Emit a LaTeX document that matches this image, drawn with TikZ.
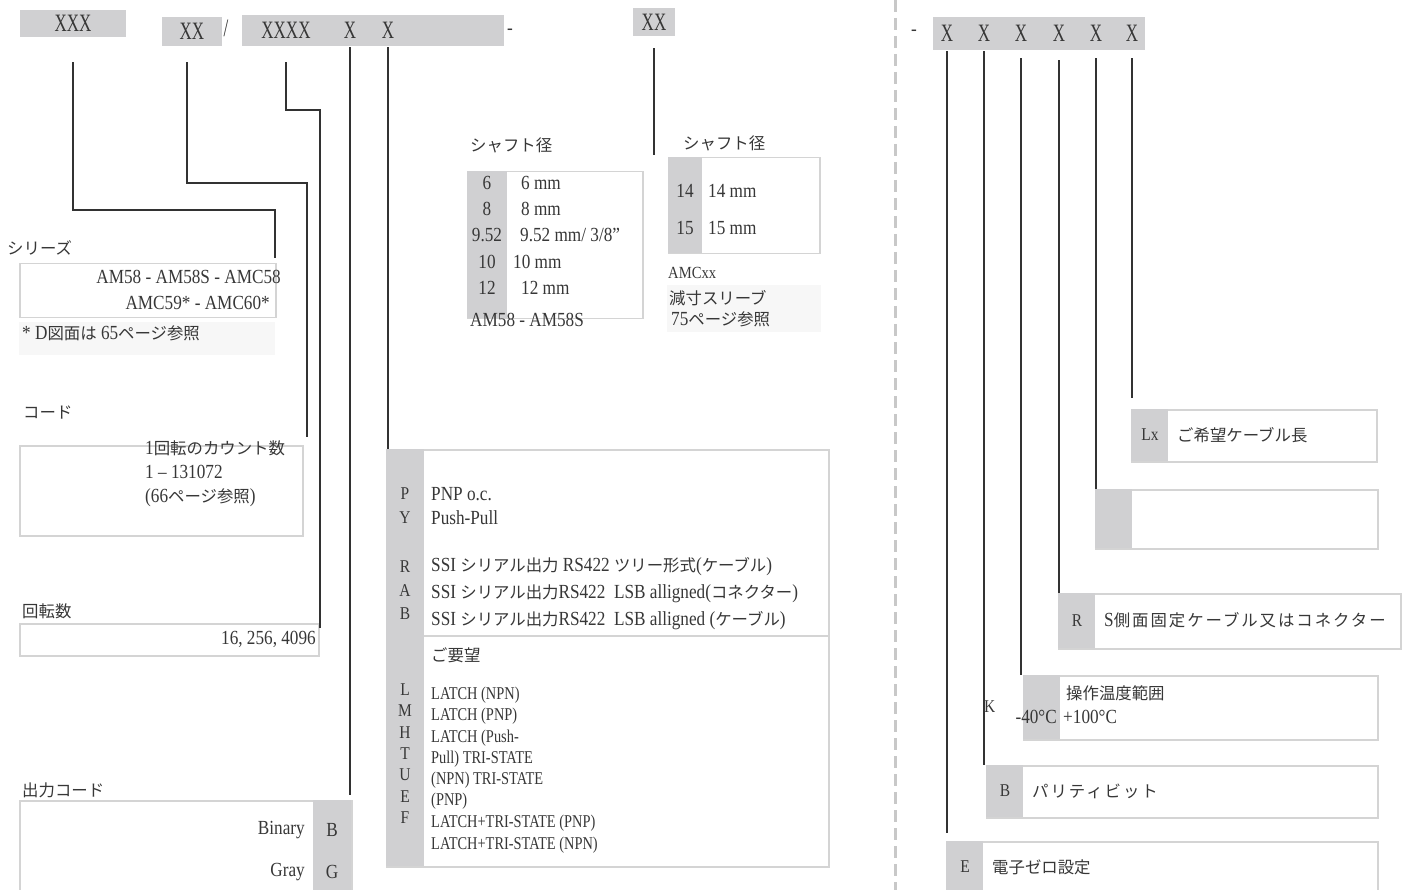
\documentclass[tikz,border=0pt]{standalone}
\usepackage{fontspec}
\setmainfont[FakeStretch=0.86]{Liberation Serif}
\newfontfamily\condfont[FakeStretch=0.8]{Liberation Serif}
\newfontfamily\codefont[FakeStretch=0.68]{Liberation Serif}
\newfontfamily\jpfont[Scale=0.82]{Noto Sans CJK JP}
\newcommand{\jtxt}[1]{{\jpfont #1}}
\newcommand{\jwide}[1]{{\jpfont\addfontfeature{LetterSpace=12}#1}}
\usepackage{tikz}
\usetikzlibrary{positioning}
\definecolor{keygray}{RGB}{208,208,210}
\definecolor{framegray}{RGB}{212,212,212}
\definecolor{notegray}{RGB}{247,247,247}
\definecolor{linkgray}{RGB}{50,50,50}
\definecolor{inkgray}{RGB}{55,55,55}
\definecolor{dashgray}{RGB}{200,200,200}
\tikzset{
code box/.style = { rectangle, fill = keygray, inner sep = 0pt, text = inkgray, font = \codefont\fontsize{25}{30}\selectfont },
code letter/.style = { inner sep = 0pt, text = inkgray, font = \codefont\fontsize{25}{30}\selectfont },
frame box/.style = { rectangle, draw = framegray, line width = 1.5pt, fill = white, inner sep = 0pt, anchor = north west },
key fill/.style = { rectangle, fill = keygray, inner sep = 0pt, anchor = north west },
note box/.style = { rectangle, fill = notegray, inner sep = 0pt, anchor = north west },
tag text/.style = { inner sep = 0pt, text = inkgray, anchor = west },
small text/.style = { tag text, font = \fontsize{18}{21}\selectfont },
list text/.style = { tag text, font = \condfont\fontsize{18}{21}\selectfont },
link line/.style = { draw = linkgray, line width = 2pt },
}
\tikzset{
pics/key row/.style args={#1, #2, #3, #4}{
        code = {
        \node[frame box, minimum width = #1pt, minimum height = #2pt] (-box) at (0, 0) {};
        \path[fill = keygray] (0, 0) rectangle (37, #2);
        \node[small text, anchor = center] (-key) at (19, #2/2) {#3};
        \node[tag text] (-text) at (46, #2/2) {#4};
        }
    }
}
\begin{document}
\begin{tikzpicture}[x = 1pt, y = -1pt, font = \fontsize{20}{24}\selectfont]
    \useasboundingbox (0, 0) rectangle (1407, 890);
    % code line, left half
    \node[code box, minimum width = 106pt, minimum height = 27pt] (ser) at (73, 23.5) {XXX};
    \node[code box, minimum width = 60pt, minimum height = 29pt] (res) at (192, 31.5) {XX};
    \node[code letter] (slash) at (226, 28) {/};
    \node[code box, minimum width = 262pt, minimum height = 31pt] (codefield) at (373, 30.5) {};
    \node[code letter, minimum height = 31pt] (cnt) at (286, 30.5) {XXXX};
    \node[code letter, minimum height = 31pt] (outa) at (350, 30.5) {X};
    \node[code letter, minimum height = 31pt] (outb) at (388, 30.5) {X};
    \node[tag text, anchor = center] (dasha) at (510, 32) {-};
    \node[code box, minimum width = 42pt, minimum height = 28pt] (shf) at (654, 22) {XX};
    % series
    \node[tag text] (serlabel) at (7, 248) {\jtxt{シリーズ}};
    \node[frame box, minimum width = 256pt, minimum height = 54pt] (serbox) at (19, 263) {};
    \node[tag text, anchor = east] (sera) at (281, 277) {AM58 - AM58S - AMC58};
    \node[tag text, anchor = east] (serb) at (270, 303) {AMC59* - AMC60*};
    \node[note box, minimum width = 256pt, minimum height = 33pt] (notebg) at (19, 322) {};
    \node[tag text] (note) at (22, 333) {* D\jtxt{図面は} 65\jtxt{ページ参照}};
    % code
    \node[tag text] (codelabel) at (23, 413) {\jtxt{コード}};
    \node[frame box, minimum width = 283pt, minimum height = 90pt] (pulsebox) at (19, 445) {};
    \node[tag text, align = left] (pulse) at (145, 474) {1\jtxt{回転のカウント数}\\1 – 131072\\(66\jtxt{ページ参照})};
    % turns
    \node[tag text] (turnlabel) at (22, 611) {\jtxt{回転数}};
    \node[frame box, minimum width = 299pt, minimum height = 32pt] (turnbox) at (19, 623) {};
    \node[tag text, anchor = east] (turns) at (316, 639) {16, 256, 4096};
    % output code
    \node[tag text] (outlabel) at (22, 790) {\jtxt{出力コード}};
    \node[frame box, minimum width = 332pt, minimum height = 100pt] (outbox) at (19, 800) {};
    \node[key fill, minimum width = 38pt, minimum height = 100pt] (outkey) at (313, 800) {};
    \foreach \y/\k/\t in {830/B/Binary, 872/G/Gray} {
        \node[tag text, anchor = center] (outk\k) at (332, \y) {\k};
        \node[tag text, anchor = east] (outt\k) at (305, \y) {\t};
    }
    % shaft AM58
    \node[tag text] (shaftlabel) at (470, 145) {\jtxt{シャフト径}};
    \node[frame box, minimum width = 175pt, minimum height = 147pt] (shaftbox) at (467, 171) {};
    \node[key fill, minimum width = 40pt, minimum height = 147pt] (shaftkey) at (467, 171) {};
    \foreach \y/\k/\x/\t [count = \i] in {183/6/521/6 mm, 209/8/521/8 mm, 235/9.52/520/{9.52 mm/ 3/8”}, 262/10/513/10 mm, 288/12/521/12 mm} {
        \node[tag text, anchor = center] (shaftk\i) at (487, \y) {\k};
        \node[tag text] (shaftt\i) at (\x, \y) {\t};
    }
    \node[tag text] (am58) at (470, 320) {AM58 - AM58S};
    % shaft AMC
    \node[tag text] (shaftlabelb) at (683, 143) {\jtxt{シャフト径}};
    \node[frame box, minimum width = 151pt, minimum height = 96pt] (amcbox) at (668, 157) {};
    \node[key fill, minimum width = 34pt, minimum height = 96pt] (amckey) at (668, 157) {};
    \foreach \y/\k [count = \i] in {191/14, 228/15} {
        \node[tag text, anchor = center] (amck\i) at (685, \y) {\k};
        \node[tag text] (amct\i) at (708, \y) {\k{} mm};
    }
    \node[tag text, font = \fontsize{17}{20}\selectfont] (amcxx) at (668, 273) {AMCxx};
    \node[note box, minimum width = 154pt, minimum height = 47pt] (sleevebg) at (667, 285) {};
    \node[tag text] (sleevea) at (669, 298) {\jtxt{減寸スリーブ}};
    \node[tag text] (sleeveb) at (671, 319) {75\jtxt{ページ参照}};
    % interface
    \node[frame box, minimum width = 442pt, minimum height = 417pt] (ifbox) at (386, 449) {};
    \node[key fill, minimum width = 38pt, minimum height = 417pt] (ifkey) at (386, 449) {};
    \draw[draw = framegray, line width = 1.5pt] (ifkey.east |- 0, 636) -- (ifbox.east |- 0, 636);
    \foreach \y/\k [count = \i] in {494/P, 518/Y, 567/R, 591/A, 614/B, 690/L, 711/M, 733/H, 754/T, 775/U, 797/E, 818/F}
        \node[small text, anchor = center] (ifk\i) at (405, \y) {\k};
    \node[tag text] (ifp) at (431, 494) {PNP o.c.};
    \node[tag text] (ify) at (431, 518) {Push-Pull};
    \node[tag text] (ifr) at (431, 567) {SSI \jtxt{シリアル出力} RS422 \jtxt{ツリー形式}(\jtxt{ケーブル})};
    \node[tag text] (ifa) at (431, 594) {SSI \jtxt{シリアル出力}RS422\ \ LSB alligned(\jtxt{コネクター})};
    \node[tag text] (ifb) at (431, 621) {SSI \jtxt{シリアル出力}RS422\ \ LSB alligned (\jtxt{ケーブル})};
    \node[tag text] (ifwish) at (431, 655) {\jtxt{ご要望}};
    \foreach \y/\t [count = \i] in {695/LATCH (NPN), 716/LATCH (PNP), 738/LATCH (Push-, 759/Pull) TRI-STATE, 780/(NPN) TRI-STATE, 801/(PNP), 823/LATCH+TRI-STATE (PNP), 845/LATCH+TRI-STATE (NPN)}
        \node[list text] (ifl\i) at (431, \y) {\t};
    % connectors, left half
    \draw[link line] ([yshift = -25pt]ser.south) -- ++(0, 148) -| ([xshift = -2pt, yshift = 5pt]serbox.north east);
    \draw[link line] ([xshift = -5pt, yshift = -16pt]res.south) -- ++(0, 121) -| ([xshift = 3pt, yshift = 8pt]pulsebox.north east);
    \draw[link line] ([yshift = -16pt]cnt.south) -- ++(0, 48) -| ([yshift = -5pt]turnbox.north east);
    \draw[link line] ([yshift = -1pt]outa.south) -- ([yshift = 5pt]outa.south |- outbox.north);
    \draw[link line] ([yshift = -1pt]outb.south) -- (outb.south |- ifbox.north);
    \draw[link line] ([yshift = -12pt]shf.south) -- ([yshift = 2pt]shf.south |- amcbox.north);
    % divider
    \draw[dashgray, line width = 3pt, dash pattern = on 12pt off 6pt] (895, 0) -- (895, 890);
    % code line, right half
    \node[tag text, anchor = center] (dashb) at (914, 33) {-};
    \node[code box, minimum width = 212pt, minimum height = 33pt] (cab) at (1039, 33.5) {};
    \foreach \x [count = \i] in {947, 984, 1021, 1059, 1096, 1132}
        \node[code letter, minimum height = 33pt] (opt\i) at (\x, 33.5) {X};
    \pic (lx) at (1131, 409) {key row = {245, 52, Lx, \jtxt{ご希望ケーブル長}}};
    \pic (n) at (1095, 489) {key row = {282, 59, {}, {}}};
    \pic (r) at (1058, 593) {key row = {342, 55, R, S\jwide{側面固定ケーブル又はコネクター}}};
    \pic (t) at (1023, 675) {key row = {354, 64, {}, {}}};
    \pic (b) at (986, 765) {key row = {391, 52, B, \jwide{パリティビット}}};
    \pic (e) at (946, 841) {key row = {431, 52, E, \jtxt{電子ゼロ設定}}};
    \node[tag text, anchor = east] (tkey) at (1057, 717) {-40°C};
    \node[tag text] (tname) at (1066, 693) {\jtxt{操作温度範囲}};
    \node[tag text] (trange) at (1063, 717) {+100°C};
    \node[small text] (kopt) at (984, 707) {K};
    % connectors, right half
    \draw[link line] ([yshift = -1pt]opt1.south) -- ([yshift = 8pt]opt1.south |- e-box.north);
    \draw[link line] ([yshift = -1pt]opt2.south) -- (opt2.south |- b-box.north);
    \draw[link line] ([yshift = -8pt]opt3.south) -- (opt3.south |- t-box.north);
    \draw[link line] ([yshift = -10pt]opt4.south) -- (opt4.south |- r-box.north);
    \draw[link line] ([yshift = -8pt]opt5.south) -- (opt5.south |- n-box.north);
    \draw[link line] ([yshift = -8pt]opt6.south) -- ([yshift = 11pt]opt6.south |- lx-box.north);
\end{tikzpicture}
\end{document}
